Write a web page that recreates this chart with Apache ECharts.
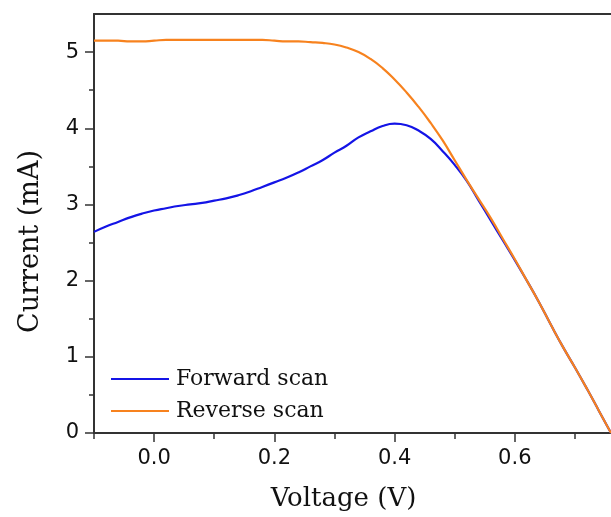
<!DOCTYPE html>
<html>
<head>
<meta charset="utf-8">
<script src="https://cdn.jsdelivr.net/npm/echarts@6/dist/echarts.min.js"></script>
<style>html,body{margin:0;padding:0;background:#fff}#c{width:611px;height:517px}</style>
</head>
<body>
<div id="c"></div>
<script>
var voltage = [-0.1,-0.08,-0.06,-0.04,-0.02,0,0.02,0.04,0.06,0.08,0.1,0.12,0.14,0.16,0.18,0.2,0.22,0.24,0.26,0.28,0.3,0.32,0.34,0.36,0.38,0.4,0.42,0.44,0.46,0.48,0.5,0.52,0.54,0.56,0.58,0.6,0.62,0.64,0.66,0.68,0.7,0.72,0.74,0.76];
var forwardScan = [2.64,2.71,2.77,2.83,2.88,2.92,2.95,2.98,3.00,3.02,3.05,3.08,3.12,3.17,3.23,3.29,3.35,3.42,3.50,3.58,3.68,3.77,3.88,3.96,4.03,4.06,4.04,3.97,3.86,3.70,3.52,3.31,3.05,2.79,2.53,2.27,2.0,1.72,1.42,1.13,0.86,0.58,0.29,0.0];
var reverseScan = [5.15,5.15,5.15,5.14,5.14,5.15,5.16,5.16,5.16,5.16,5.16,5.16,5.16,5.16,5.16,5.15,5.14,5.14,5.13,5.12,5.10,5.06,5.00,4.91,4.79,4.64,4.47,4.28,4.07,3.84,3.58,3.32,3.07,2.82,2.55,2.28,2.0,1.72,1.42,1.13,0.86,0.58,0.29,0.0];
var xMajorTicks = [0, 0.2, 0.4, 0.6];
var xMinorTicks = [-0.1, 0.1, 0.3, 0.5, 0.7];
var yMajorTicks = [0, 1, 2, 3, 4, 5];
var yMinorTicks = [0.5, 1.5, 2.5, 3.5, 4.5];
var seriesNames = ['Forward scan', 'Reverse scan'];

function pairs(xs, ys) { return xs.map(function (x, i) { return [x, ys[i]]; }); }

var axisColor = '#333';
var chart = echarts.init(document.getElementById('c'), null, {renderer: 'canvas'});
chart.setOption({
  animation: false,
  backgroundColor: '#fff',
  grid: {left: 94, right: 0, top: 14, bottom: 84, containLabel: false},
  legend: {
    orient: 'vertical', left: 106, top: 363, itemWidth: 58, itemHeight: 2, itemGap: 10,
    icon: 'rect',
    data: seriesNames,
    textStyle: {fontFamily: 'DejaVu Serif', fontSize: 22, color: '#111', padding: [0,0,0,2]}
  },
  xAxis: [{
    type: 'value', min: -0.1, max: 0.76, position: 'bottom',
    name: 'Voltage (V)', nameLocation: 'middle', nameGap: 53,
    nameTextStyle: {fontFamily: 'DejaVu Serif', fontSize: 26, color: '#111', padding: [0, 18, 0, 0]},
    axisLine: {onZero: false, lineStyle: {color: axisColor, width: 2}},
    axisTick: {show: true, length: 9, customValues: xMajorTicks, lineStyle: {color: axisColor, width: 1.5}},
    axisLabel: {customValues: xMajorTicks, margin: 15, fontFamily: 'DejaVu Sans', fontSize: 21, color: '#111',
      formatter: function (v) { return v.toFixed(1); }},
    splitLine: {show: false}
  }, {
    type: 'value', min: -0.1, max: 0.76, position: 'bottom',
    axisLine: {show: false, onZero: false},
    axisTick: {show: true, length: 6, customValues: xMinorTicks, lineStyle: {color: axisColor, width: 1.5}},
    axisLabel: {show: false}, splitLine: {show: false}
  }, {
    type: 'value', min: -0.1, max: 0.76, position: 'top',
    axisLine: {show: true, onZero: false, lineStyle: {color: axisColor, width: 2}},
    axisTick: {show: false}, axisLabel: {show: false}, splitLine: {show: false}
  }],
  yAxis: [{
    type: 'value', min: 0, max: 5.5, position: 'left',
    name: 'Current (mA)', nameLocation: 'middle', nameGap: 50,
    nameTextStyle: {fontFamily: 'DejaVu Serif', fontSize: 27, color: '#111', padding: [0, 36, 0, 0]},
    axisLine: {show: true, onZero: false, lineStyle: {color: axisColor, width: 2}},
    axisTick: {show: true, length: 9, customValues: yMajorTicks, lineStyle: {color: axisColor, width: 1.5}},
    axisLabel: {customValues: yMajorTicks, margin: 15, fontFamily: 'DejaVu Sans', fontSize: 21, color: '#111'},
    splitLine: {show: false}
  }, {
    type: 'value', min: 0, max: 5.5, position: 'left',
    axisLine: {show: false, onZero: false},
    axisTick: {show: true, length: 5, customValues: yMinorTicks, lineStyle: {color: axisColor, width: 1.5}},
    axisLabel: {show: false}, splitLine: {show: false}
  }],
  series: [{
    name: seriesNames[0], type: 'line', data: pairs(voltage, forwardScan), smooth: 0.5,
    symbol: 'none', showSymbol: false, z: 3,
    lineStyle: {color: '#1414e6', width: 2.2}, itemStyle: {color: '#1414e6'}
  }, {
    name: seriesNames[1], type: 'line', data: pairs(voltage, reverseScan), smooth: 0.5,
    symbol: 'none', showSymbol: false, z: 4,
    lineStyle: {color: '#f7821e', width: 2.2}, itemStyle: {color: '#f7821e'}
  }]
});
</script>
</body>
</html>
